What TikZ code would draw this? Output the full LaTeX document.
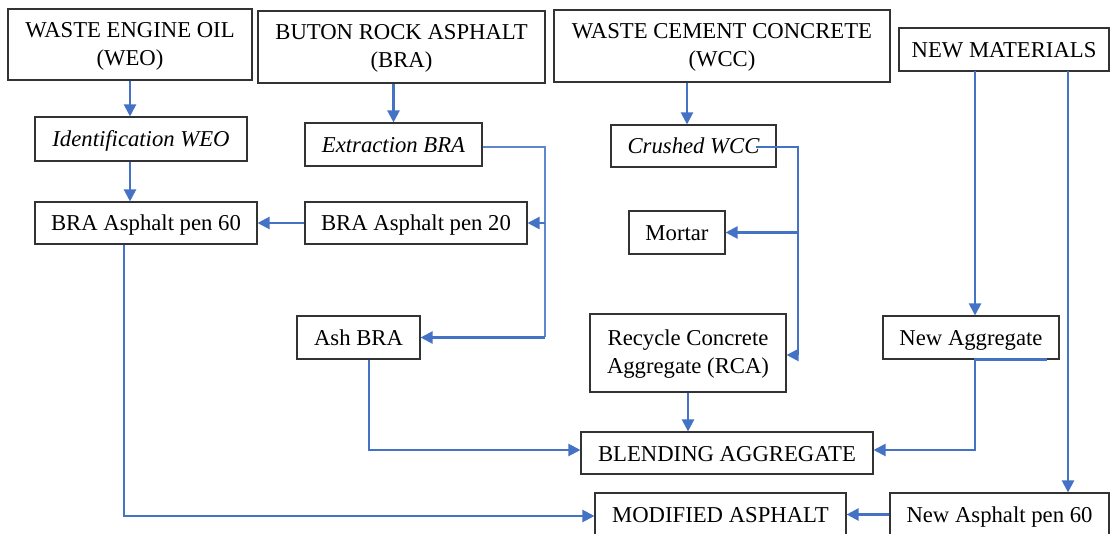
\documentclass[tikz,border=0pt]{standalone}
\usepackage{fontspec}
\setmainfont{Liberation Serif}
\usetikzlibrary{arrows.meta}
\definecolor{lblue}{HTML}{4472C4}
\newcommand{\topstrut}{\rule{0pt}{18pt}}
\begin{document}
\begin{tikzpicture}[x=1pt,y=-1pt,
 box/.style={draw=black!80, line width=1.1pt, inner sep=0pt, align=center, font=\fontsize{22.7}{28}\selectfont},
 one/.style={box, text height=20pt, text depth=4pt},
 conn/.style={draw=lblue, line width=2.2pt},
 arr/.style={conn, -{Triangle[length=12pt,width=12pt]}},
 thinline/.style={draw=lblue!85, line width=1.1pt}]
\useasboundingbox (0,0) rectangle (1111,534);
\fill[white] (0,0) rectangle (1111,534);

% nodes
\node[box, minimum width=244, minimum height=71] (weo) at (130,44.5) {\topstrut WASTE ENGINE OIL\\(WEO)};
\node[box, minimum width=287, minimum height=72] (bra) at (401.5,47) {\topstrut BUTON ROCK ASPHALT\\(BRA)};
\node[box, minimum width=336, minimum height=72] (wcc) at (722,46) {\topstrut WASTE CEMENT CONCRETE\\(WCC)};
\node[one, minimum width=210, minimum height=43] (newm) at (1004,49.5) {NEW MATERIALS};
\node[one, minimum width=212, minimum height=44] (idw) at (141,139) {\itshape Identification WEO};
\node[one, minimum width=177, minimum height=43] (ext) at (393.5,144.5) {\itshape Extraction BRA};
\node[one, minimum width=165, minimum height=42] (crush) at (693.5,146) {\itshape Crushed WCC};
\node[one, minimum width=222, minimum height=42] (p60) at (146,223) {BRA Asphalt pen 60};
\node[one, minimum width=222, minimum height=42] (p20) at (416,223) {BRA Asphalt pen 20};
\node[one, minimum width=96, minimum height=43] (mortar) at (677,232.5) {Mortar};
\node[one, minimum width=123, minimum height=43] (ash) at (358.5,337.5) {Ash BRA};
\node[box, minimum width=196, minimum height=78] (rca) at (688,353) {\topstrut Recycle Concrete\\Aggregate (RCA)};
\node[one, minimum width=176, minimum height=43] (newagg) at (971,337.5) {New Aggregate};
\node[one, minimum width=292, minimum height=42] (blend) at (727,453) {BLENDING AGGREGATE};
\node[one, minimum width=251, minimum height=43] (mod) at (720.5,514.5) {MODIFIED ASPHALT};
\node[one, minimum width=219, minimum height=43] (newasp) at (999.5,514.5) {New Asphalt pen 60};

% WEO chain
\draw[arr] (weo.south) -- (weo.south |- idw.north);
\draw[arr] (idw.south -| weo.south) -- (p60.north -| weo.south);

% BRA chain
\draw[arr] (bra.south -| ext.north) -- (ext.north);
\coordinate (c1) at (545,147);
\coordinate (c2) at (545,337.5);
\draw[thinline] (ext.east |- c1) -- (c1) -- (c2);
\draw[arr] (c1 |- p20.east) -- (p20.east);
\draw[arr] (c2) -- (ash.east);
\draw[arr] (p20.west) -- (p60.east);

% WCC chain
\coordinate (c3) at ([xshift=-6.5pt]crush.north);
\draw[arr] (c3 |- wcc.south) -- (c3);
\coordinate (c4) at (798,147);
\coordinate (c5) at (798,355);
\coordinate (c4s) at ([xshift=-21pt]crush.east);
\draw[conn] (c4s |- c4) -- (c4) -- (c5);
\draw[arr] (c5) -- (rca.east |- c5);
\draw[arr] (c4 |- mortar.east) -- (mortar.east);
\draw[arr] (rca.south) -- (rca.south |- blend.north);

% new materials
\coordinate (c6) at (975,71);
\coordinate (c7) at (1068,71);
\draw[arr] (c6) -- (c6 |- newagg.north);
\draw[arr] (c7) -- (c7 |- newasp.north);

% to blending
\coordinate (c8) at (975,450);
\coordinate (c8s) at ([xshift=-13pt]newagg.south east);
\draw[arr] (c8s) -- (c8 |- newagg.south) -- (c8) -- (blend.east |- c8);
\coordinate (c9) at (369,450);
\draw[arr] (c9 |- ash.south) -- (c9) -- (blend.west |- c9);

% to modified
\coordinate (c10) at (124,516);
\draw[arr] (c10 |- p60.south) -- (c10) -- (mod.west |- c10);
\draw[arr] (newasp.west) -- (mod.east);
\end{tikzpicture}
\end{document}
